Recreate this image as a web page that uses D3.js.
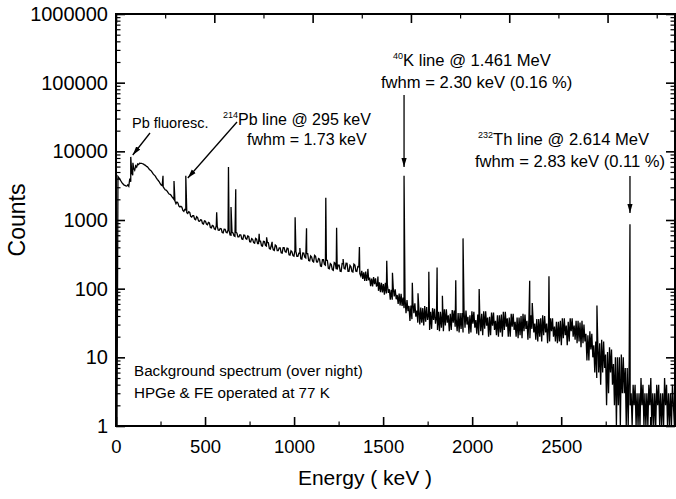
<!DOCTYPE html>
<html>
<head>
<meta charset="utf-8">
<script src="https://cdn.jsdelivr.net/npm/d3@7"></script>
<style>
body { margin: 0; background: #fff; }
svg text { font-family: "Liberation Sans", Arial, Helvetica, sans-serif; fill: #000; }
</style>
</head>
<body>
<script>
// spectrum: two readings per 10 keV bin (start and middle of the bin).
// the plot draws each bin as its upper then its lower reading, like a min/max decimated spectrum
const binWidth = 10
const counts = [
  1, 4300, 3900, 3500, 3250, 3150, 3100, 3600, 4500, 5300,
  5900, 6400, 6700, 6700, 6500, 6250, 5950, 5450, 5150, 4650,
  4350, 3900, 3600, 3230, 3040, 2760, 2640, 2390, 2290, 2090,
  1880, 1830, 1595, 1580, 1375, 1430, 1280, 1320, 1130, 1155,
  1035, 1115, 965, 1005, 890, 970, 872, 920, 778, 821,
  745, 825, 712, 752, 657, 737, 664, 717, 604, 650,
  590, 665, 566, 610, 527, 603, 536, 586, 484, 524,
  469, 539, 454, 493, 422, 489, 427, 471, 383, 418,
  368, 433, 358, 394, 333, 395, 347, 390, 312, 345,
  303, 362, 295, 328, 273, 330, 287, 326, 256, 289,
  251, 305, 244, 275, 214, 265, 226, 260, 198, 224,
  189, 240, 190, 221, 179, 230, 197, 234, 178, 208,
  178, 228, 178, 207, 166, 182, 130, 177, 133, 145,
  108, 148, 107, 119, 89, 122, 82, 122, 87, 98,
  69, 103, 70, 81, 57, 84, 52, 71, 47, 56,
  36, 63, 39, 48, 30, 53, 29, 56, 35, 44,
  26, 52, 31, 39, 24, 46, 24, 50, 32, 41,
  25, 49, 28, 37, 23, 44, 23, 48, 30, 39,
  23, 47, 27, 35, 21, 42, 21, 47, 29, 38,
  21, 45, 25, 34, 20, 41, 20, 46, 28, 37,
  20, 43, 25, 33, 19, 38, 19, 43, 26, 34,
  19, 41, 23, 31, 17, 36, 17, 41, 23, 31,
  17, 37, 20, 28, 16, 33, 15, 37, 21, 29,
  17, 37, 20, 29, 16, 34, 14, 34, 17, 22,
  9, 24, 10, 15, 5, 17, 4, 18, 7, 11,
  3, 14, 4, 8, 1, 10, 1, 11, 3, 7,
  1, 9, 1, 4, 1, 3, 1, 5, 1, 3,
  1, 4, 1, 3, 1, 4, 1, 3, 1, 5,
  1, 3, 1, 4, 1
]
const countsMid = [
  4400, 4100, 3700, 3370, 3200, 3120, 3250, 4000, 4900, 5600,
  6150, 6550, 6720, 6600, 6350, 6020, 5700, 5300, 4900, 4500,
  4100, 3760, 3380, 3160, 2880, 2720, 2500, 2360, 2170, 1990,
  1725, 1766, 1552, 1539, 1335, 1401, 1247, 1290, 1104, 1155,
  1012, 1081, 957, 996, 874, 959, 851, 903, 769, 834,
  730, 804, 708, 747, 649, 734, 651, 708, 599, 665,
  577, 646, 566, 606, 522, 599, 526, 578, 479, 537,
  460, 525, 454, 491, 417, 485, 418, 466, 378, 429,
  360, 420, 358, 394, 330, 395, 340, 385, 308, 357,
  297, 352, 295, 328, 270, 331, 280, 324, 253, 300,
  244, 296, 245, 269, 211, 265, 220, 258, 195, 232,
  185, 233, 192, 222, 178, 232, 193, 233, 178, 218,
  175, 221, 180, 209, 153, 139, 173, 130, 166, 109,
  140, 116, 141, 93, 124, 88, 117, 85, 115, 69,
  96, 77, 98, 60, 85, 56, 74, 44, 68, 34,
  57, 44, 61, 32, 53, 32, 52, 33, 54, 25,
  46, 35, 51, 25, 46, 27, 46, 29, 50, 24,
  43, 32, 48, 24, 44, 26, 44, 27, 48, 22,
  41, 31, 46, 22, 42, 24, 43, 26, 47, 20,
  39, 29, 45, 21, 41, 23, 42, 25, 46, 20,
  38, 28, 43, 20, 38, 21, 40, 24, 42, 18,
  36, 26, 41, 18, 36, 20, 37, 21, 40, 16,
  33, 24, 37, 17, 33, 17, 34, 19, 37, 15,
  33, 24, 37, 18, 34, 17, 32, 16, 30, 9,
  21, 13, 22, 6, 17, 6, 16, 6, 17, 2,
  12, 6, 13, 2, 10, 2, 10, 3, 10, 1,
  7, 2, 3, 2, 4, 1, 3, 2, 4, 1,
  3, 2, 5, 1, 3, 2, 4, 1, 3, 2,
  4, 1, 3, 2
]

// gamma lines (keV) and their peak heights
const peakEnergy = [75, 86, 239, 295, 355, 512, 572, 585, 609, 728, 766, 794, 911, 935, 969,
  1067, 1122, 1155, 1238, 1281, 1332, 1377, 1406, 1465, 1507, 1536, 1591, 1633, 1660,
  1728, 1765, 1847, 2104, 2117, 2202, 2446, 2614]
const peakCounts = [8300, 6800, 4400, 3700, 4400, 1300, 5900, 1550, 2800, 630, 560, 480, 1100, 390, 760,
  2100, 770, 270, 405, 194, 150, 255, 170, 4400, 122, 86, 177, 204, 79,
  133, 540, 99, 130, 62, 152, 57, 870]

const yTickValues = [1, 10, 100, 1000, 10000, 100000, 1000000]
const xTickLabels = [0, 500, 1000, 1500, 2000, 2500]

var w = 676
var h = 499
var plotL = 116, plotR = 675, plotT = 14, plotB = 426

var svg = d3.select("body").append("svg")
   .attr("width", w)
   .attr("height", h)

// data are placed on the real energy scale (the one the top ticks follow);
// the printed bottom axis runs on its own, slightly different scale
var xE = d3.scaleLinear().domain([0, 2843]).range([plotL, plotR])
var xB = d3.scaleLinear().domain([0, 3139]).range([plotL, plotR])
var y = d3.scaleLog().domain([1, 1e6]).range([plotB, plotT])

var spec = []
counts.forEach(function(c, i) {
  var pair = i < countsMid.length ? [c, countsMid[i]] : [c]
  spec.push({e: i * binWidth, c: d3.max(pair)})
  if (pair.length > 1) spec.push({e: i * binWidth + binWidth / 2, c: d3.min(pair)})
})
peakEnergy.forEach(function(e, i) { spec.push({e: e, c: peakCounts[i]}) })
spec.sort(function(a, b) { return a.e - b.e })

svg.append("clipPath").attr("id", "plot")
  .append("rect").attr("x", plotL).attr("y", plotT).attr("width", plotR - plotL).attr("height", plotB - plotT)

var line = d3.line()
  .x(function(d) { return xE(d.e) })
  .y(function(d) { return y(Math.max(d.c, 1)) })

svg.append("path")
  .datum(spec)
  .attr("clip-path", "url(#plot)")
  .attr("fill", "none")
  .attr("stroke", "#000")
  .attr("stroke-width", 1.3)
  .attr("d", line)

// ticks
var minorY = []
for (var p = 0; p < 6; p++) for (var m = 2; m < 10; m++) minorY.push(m * Math.pow(10, p))

function tidy(g, sw) {
  g.select(".domain").remove()
  g.selectAll(".tick line").attr("stroke", "#000").attr("stroke-width", sw)
}

svg.append("g").attr("transform", "translate(" + plotL + ",0)")
  .call(d3.axisLeft(y).tickValues(yTickValues).tickSize(-9).tickSizeOuter(0).tickPadding(8).tickFormat(d3.format("d")))
  .call(tidy, 1.6)
  .selectAll("text").style("font-size", "20px")
svg.append("g").attr("transform", "translate(" + plotL + ",0)")
  .call(d3.axisLeft(y).tickValues(minorY).tickSize(-4.5).tickFormat(""))
  .call(tidy, 1.2)

svg.append("g").attr("transform", "translate(" + plotR + ",0)")
  .call(d3.axisRight(y).tickValues(yTickValues).tickSize(-9).tickFormat(""))
  .call(tidy, 1.6)
svg.append("g").attr("transform", "translate(" + plotR + ",0)")
  .call(d3.axisRight(y).tickValues(minorY).tickSize(-4.5).tickFormat(""))
  .call(tidy, 1.2)

svg.append("g").attr("transform", "translate(0," + plotB + ")")
  .call(d3.axisBottom(xB).tickValues(d3.range(0, 3001, 500)).tickSize(-9).tickPadding(14)
    .tickFormat(function(d) { return xTickLabels.indexOf(d) >= 0 ? d : "" }))
  .call(tidy, 1.6)
  .selectAll("text").style("font-size", "18.5px")
svg.append("g").attr("transform", "translate(0," + plotB + ")")
  .call(d3.axisBottom(xB).tickValues(d3.range(250, 3000, 500)).tickSize(-4.5).tickFormat(""))
  .call(tidy, 1.2)

svg.append("g").attr("transform", "translate(0," + plotT + ")")
  .call(d3.axisTop(xE).tickValues(d3.range(0, 2843, 500)).tickSize(-9).tickFormat(""))
  .call(tidy, 1.6)
svg.append("g").attr("transform", "translate(0," + plotT + ")")
  .call(d3.axisTop(xE).tickValues(d3.range(250, 2843, 500)).tickSize(-4.5).tickFormat(""))
  .call(tidy, 1.2)

// frame
svg.append("rect")
  .attr("x", plotL).attr("y", plotT).attr("width", plotR - plotL).attr("height", plotB - plotT)
  .attr("fill", "none").attr("stroke", "#000").attr("stroke-width", 2)

// axis titles
svg.append("text").attr("x", 365).attr("y", 485).attr("text-anchor", "middle")
  .style("font-size", "21px").text("Energy ( keV )")
svg.append("text").attr("transform", "translate(25,220) rotate(-90)").attr("text-anchor", "middle")
  .style("font-size", "23px").text("Counts")

// arrows
svg.append("defs").append("marker")
  .attr("id", "head").attr("viewBox", "0 -3 9 6").attr("refX", 9).attr("refY", 0)
  .attr("markerUnits", "userSpaceOnUse").attr("markerWidth", 9).attr("markerHeight", 6)
  .attr("orient", "auto")
  .append("path").attr("d", "M0,-2.6L9,0L0,2.6Z").attr("fill", "#000")

function arrow(x1, y1, x2, y2) {
  svg.append("line").attr("x1", x1).attr("y1", y1).attr("x2", x2).attr("y2", y2)
    .attr("stroke", "#000").attr("stroke-width", 1.3).attr("marker-end", "url(#head)")
}
arrow(150, 133, xE(75) + 2, 155)
arrow(237, 122, xE(355) + 2, 178)
arrow(xE(1465), 95, xE(1465), 167)
arrow(xE(2614), 176, xE(2614), 213)

// annotations
function label(x, yy, size, sup, rest) {
  var t = svg.append("text").attr("x", x).attr("y", yy).style("font-size", size + "px")
  if (sup) {
    t.append("tspan").style("font-size", "9px").attr("dy", -7).text(sup)
    t.append("tspan").attr("dy", 7).text(rest)
  } else {
    t.text(rest)
  }
}
label(132, 128, 14.5, null, "Pb fluoresc.")
label(223, 125, 16, "214", "Pb line @ 295 keV")
label(247, 145, 16, null, "fwhm = 1.73 keV")
label(393, 66, 16.6, "40", "K line @ 1.461 MeV")
label(381, 88, 16.6, null, "fwhm = 2.30 keV (0.16 %)")
label(478, 145, 16.6, "232", "Th line @ 2.614 MeV")
label(475, 167, 16.6, null, "fwhm = 2.83 keV (0.11 %)")
label(134, 376, 15.2, null, "Background spectrum (over night)")
label(134, 398, 15.2, null, "HPGe & FE operated at 77 K")
</script>
</body>
</html>
